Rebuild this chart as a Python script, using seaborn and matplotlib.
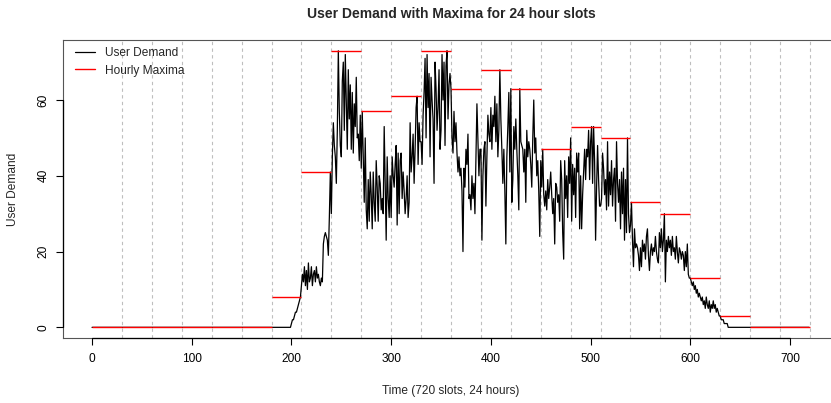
import numpy as np
import pandas as pd
import matplotlib
matplotlib.use("Agg")
import matplotlib.pyplot as plt
from matplotlib.lines import Line2D
import seaborn as sns

# ---------------- data (30 slots per hour, 24 hours) ----------------
idle_hour = [0] * 30
h06 = [0] * 20 + [1, 2, 2, 3, 4, 4, 5, 6, 7, 8]
h07 = [11, 14, 12, 16, 11, 15, 10, 17, 12, 13, 16, 11, 14, 15, 12, 16, 13, 14, 12, 11,
       13, 12, 22, 24, 25, 24, 23, 19, 29, 41]
h08 = [30, 45, 54, 48, 45, 38, 52, 73, 57, 48, 45, 65, 70, 52, 72, 60, 47, 68, 55, 64,
       47, 62, 46, 59, 53, 66, 50, 51, 44, 56]
h09 = [42, 57, 45, 33, 50, 31, 26, 39, 28, 41, 35, 26, 41, 33, 28, 44, 37, 28, 40, 38,
       31, 34, 30, 53, 38, 23, 45, 34, 29, 40]
h10 = [29, 45, 40, 37, 43, 48, 27, 46, 30, 44, 46, 34, 41, 36, 30, 34, 40, 29, 33, 54,
       41, 45, 51, 38, 47, 58, 61, 43, 54, 49]
h11 = [49, 43, 56, 62, 71, 50, 72, 58, 67, 45, 66, 60, 55, 38, 70, 63, 52, 58, 68, 47,
       52, 72, 60, 70, 48, 69, 73, 55, 64, 67]
h12 = [63, 50, 46, 57, 49, 54, 46, 41, 45, 40, 42, 36, 20, 42, 37, 47, 43, 51, 34, 35,
       31, 40, 34, 38, 30, 45, 59, 50, 40, 47]
h13 = [47, 23, 40, 47, 49, 32, 45, 56, 51, 49, 58, 47, 56, 53, 61, 49, 59, 45, 52, 68,
       55, 47, 38, 47, 36, 22, 45, 53, 62, 41]
h14 = [63, 33, 39, 53, 47, 55, 47, 40, 31, 63, 49, 48, 47, 41, 47, 33, 52, 45, 49, 47,
       43, 37, 50, 60, 46, 50, 40, 44, 36, 24]
h15 = [44, 37, 47, 35, 32, 36, 31, 39, 34, 37, 41, 35, 30, 34, 22, 38, 37, 33, 35, 28,
       44, 39, 25, 18, 44, 34, 40, 29, 45, 38]
h16 = [50, 28, 43, 35, 42, 29, 46, 41, 46, 26, 40, 26, 35, 41, 47, 39, 47, 45, 52, 39,
       49, 53, 38, 53, 44, 23, 37, 48, 39, 32]
h17 = [32, 34, 46, 42, 35, 39, 31, 49, 32, 41, 35, 44, 32, 39, 42, 28, 49, 38, 33, 39,
       26, 41, 30, 42, 23, 39, 25, 50, 30, 25]
h18 = [27, 33, 23, 16, 26, 21, 22, 21, 19, 15, 21, 16, 23, 20, 22, 18, 24, 26, 19, 15,
       20, 22, 19, 21, 20, 24, 20, 18, 17, 25]
h19 = [21, 26, 20, 23, 30, 12, 23, 20, 24, 21, 23, 19, 24, 20, 21, 18, 24, 20, 17, 21,
       20, 18, 20, 19, 15, 20, 16, 22, 14, 13]
h20 = [13, 12, 11, 12, 10, 11, 9, 10, 8, 9, 8, 7, 8, 6, 7, 5, 8, 6, 5, 7,
       4, 6, 5, 7, 5, 6, 4, 5, 4, 3]
h21 = [3, 2, 2, 2, 1, 1, 1, 1, 0, 0] + [0] * 20

x_ticks = [0, 100, 200, 300, 400, 500, 600, 700]
y_ticks = [0, 20, 40, 60]
title = "User Demand with Maxima for 24 hour slots"
x_label = "Time (720 slots, 24 hours)"
y_label = "User Demand"
legend_labels = ["User Demand", "Hourly Maxima"]

# ---------------- build ----------------
hour_blocks = [idle_hour] * 6 + [h06, h07, h08, h09, h10, h11, h12, h13, h14,
                                 h15, h16, h17, h18, h19, h20, h21] + [idle_hour] * 2
slots_per_hour = 30
demand = np.concatenate(hour_blocks)
hour_max = [max(b) for b in hour_blocks]
hour_start = np.arange(len(hour_blocks)) * slots_per_hour
hour_end = hour_start + slots_per_hour

df = pd.DataFrame({"slot": np.arange(len(demand)), "demand": demand})

sns.set_style("white")
plt.rcParams["font.family"] = ["Liberation Sans", "DejaVu Sans"]

W, H = 831, 403
fig = plt.figure(figsize=(W / 100, H / 100), dpi=100)
ax = fig.add_axes([63.3 / W, (H - 338.4) / H, (838.7 - 63.3) / W, (338.4 - 39.7) / H])

# hour grid
ax.vlines(hour_end, 0, 1, transform=ax.get_xaxis_transform(), colors="#BEBEBE",
          linestyles=(0, (3, 3)), lw=0.8, zorder=1)

sns.lineplot(data=df, x="slot", y="demand", color="black", lw=0.9,
             estimator=None, ax=ax, zorder=3)
ax.hlines(hour_max, hour_start, hour_end, colors="red", lw=1.0, zorder=4)

n = len(demand)
ax.set_xlim(-0.04 * n, n * 1.04)
ymax = max(hour_max)
ax.set_ylim(-0.04 * ymax, ymax * 1.04)

ax.set_xticks(x_ticks)
ax.set_yticks(y_ticks)
ax.set_xlabel("")
ax.set_ylabel("")
ax.tick_params(axis="both", direction="out", length=4.7, width=0.8, color="black",
               labelsize=8.6, labelcolor="black")
ax.tick_params(axis="x", pad=5.8, bottom=True)
ax.tick_params(axis="y", pad=5.3, left=True, labelrotation=90)
for lab in ax.get_yticklabels():
    lab.set_va("center")

for s in ax.spines.values():
    s.set_color("#555555")
    s.set_linewidth(0.8)
    s.set_visible(True)
ax.spines["right"].set_visible(False)  # lies outside the cropped figure

# R-style axis lines spanning first to last tick
ax.plot([x_ticks[0], x_ticks[-1]], [ax.get_ylim()[0]] * 2, color="black", lw=0.9,
        clip_on=False, zorder=5)
ax.plot([ax.get_xlim()[0]] * 2, [y_ticks[0], y_ticks[-1]], color="black", lw=0.9,
        clip_on=False, zorder=5)

handles = [Line2D([], [], color="black", lw=0.9), Line2D([], [], color="red", lw=1.0)]
ax.legend(handles, legend_labels, loc="upper left",
          bbox_to_anchor=((75 - 63.3) / 775.4, (338.4 - 47.5) / 298.7),
          frameon=False, fontsize=8.6, handlelength=1.68, handletextpad=0.84,
          labelspacing=0.43, borderpad=0, borderaxespad=0)

fig.text(451 / W, 1 - 14 / H, title, ha="center", va="center",
         fontsize=10, fontweight="bold")
fig.text(451 / W, 1 - 391 / H, x_label, ha="center", va="center", fontsize=8.6)
fig.text(13.5 / W, 1 - ((338.4 + 39.7) / 2) / H, y_label, ha="center", va="center",
         rotation=90, fontsize=8.6)

fig.savefig("out.png", dpi=100)
